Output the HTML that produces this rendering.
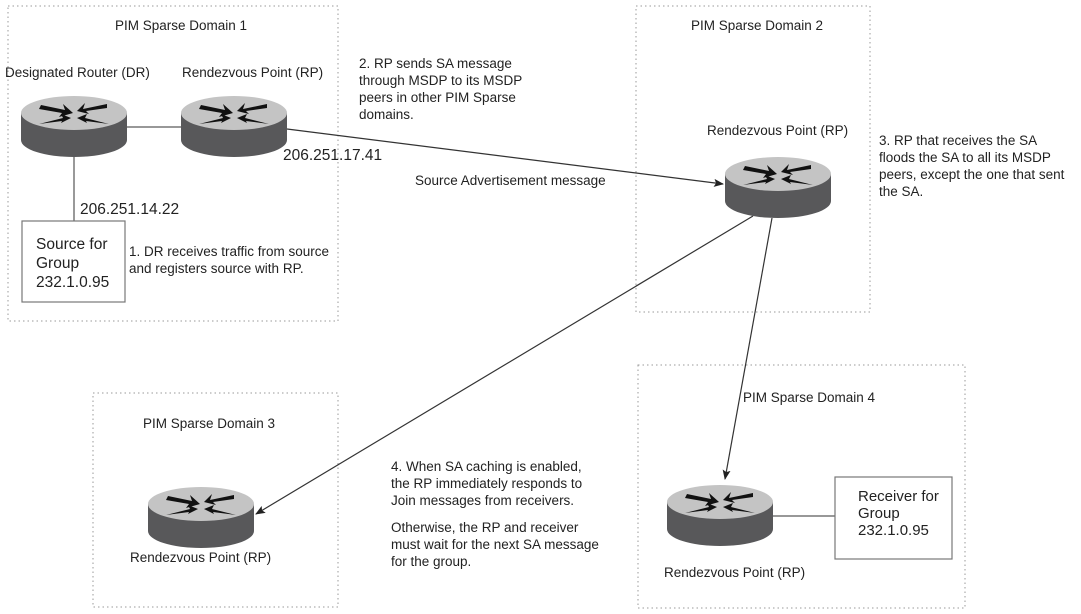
<!DOCTYPE html>
<html><head><meta charset="utf-8"><style>
html,body{margin:0;padding:0;background:#fff;}
svg{display:block;font-family:"Liberation Sans",Arial,sans-serif;fill:#222;}
</style></head><body>
<svg width="1081" height="614" viewBox="0 0 1081 614" xmlns="http://www.w3.org/2000/svg">
<defs>
<g id="rt">
  <path d="M0,17 L0,44 A53,17 0 0 0 106,44 L106,17 Z" fill="#58585a"/>
  <ellipse cx="53" cy="17" rx="53" ry="17" fill="#c4c4c4"/>
  <g fill="#111">
    <path d="M20,9 L44,14 L42,8 L52,17 L38,21 L41,17 L18,13 Z"/>
    <path d="M86,9 L62,14 L64,8 L56,16 L68,19 L65,16 L86,13 Z" transform="translate(0,-1)"/>
    <path d="M18,28 L42,22 L40,18 L50,22 L40,27 L41,25 Z"/>
    <path d="M88,28 L64,22 L66,18 L56,22 L66,27 L65,25 Z"/>
  </g>
</g>
<marker id="ah" markerWidth="10" markerHeight="8" refX="9" refY="4" orient="auto" markerUnits="userSpaceOnUse">
  <path d="M0,0 L10,4 L0,8 L2,4 Z" fill="#222"/>
</marker>
</defs>
<g fill="none" stroke="#999" stroke-width="1" stroke-dasharray="1.5,3">
  <rect x="8" y="6" width="330" height="315"/>
  <rect x="636" y="6" width="234" height="306"/>
  <rect x="93" y="393" width="245" height="214"/>
  <rect x="638" y="365" width="327" height="243"/>
</g>
<g stroke="#777" stroke-width="1.5" fill="none">
  <line x1="127" y1="127" x2="181" y2="127"/>
  <line x1="74" y1="157" x2="74" y2="221"/>
  <line x1="773" y1="516" x2="835" y2="516"/>
</g>
<g stroke="#333" stroke-width="1.2" fill="none" marker-end="url(#ah)">
  <line x1="287" y1="129" x2="723" y2="184"/>
  <line x1="753" y1="216" x2="256" y2="514"/>
  <line x1="772" y1="218" x2="725" y2="479"/>
</g>
<rect x="22" y="221" width="103" height="81" fill="#fff" stroke="#777" stroke-width="1.2"/>
<rect x="835" y="477" width="117" height="82" fill="#fff" stroke="#777" stroke-width="1.2"/>
<use href="#rt" x="21" y="96"/>
<use href="#rt" x="181" y="96"/>
<use href="#rt" x="725" y="157"/>
<use href="#rt" x="148" y="487"/>
<use href="#rt" x="667" y="485"/>
<g font-size="13.5">
  <text x="115" y="30">PIM Sparse Domain 1</text>
  <text x="5" y="77">Designated Router (DR)</text>
  <text x="182" y="77">Rendezvous Point (RP)</text>
  <text x="36" y="249" font-size="15.5">Source for</text>
  <text x="36" y="268" font-size="15.5">Group</text>
  <text x="36" y="287" font-size="15.5">232.1.0.95</text>
  <text x="129" y="256">1. DR receives traffic from source</text>
  <text x="129" y="273">and registers source with RP.</text>
  <text x="80" y="214" font-size="15.5">206.251.14.22</text>
  <text x="283" y="160" font-size="15.5">206.251.17.41</text>
  <text x="359" y="68">2. RP sends SA message</text>
  <text x="359" y="85">through MSDP to its MSDP</text>
  <text x="359" y="102">peers in other PIM Sparse</text>
  <text x="359" y="119">domains.</text>
  <text x="415" y="185">Source Advertisement message</text>
  <text x="691" y="30">PIM Sparse Domain 2</text>
  <text x="707" y="135">Rendezvous Point (RP)</text>
  <text x="879" y="145">3. RP that receives the SA</text>
  <text x="879" y="162">floods the SA to all its MSDP</text>
  <text x="879" y="179">peers, except the one that sent</text>
  <text x="879" y="196">the SA.</text>
  <text x="143" y="428">PIM Sparse Domain 3</text>
  <text x="130" y="562">Rendezvous Point (RP)</text>
  <text x="391" y="471">4. When SA caching is enabled,</text>
  <text x="391" y="488">the RP immediately responds to</text>
  <text x="391" y="505">Join messages from receivers.</text>
  <text x="391" y="532">Otherwise, the RP and receiver</text>
  <text x="391" y="549">must wait for the next SA message</text>
  <text x="391" y="566">for the group.</text>
  <text x="743" y="402">PIM Sparse Domain 4</text>
  <text x="664" y="577">Rendezvous Point (RP)</text>
  <text x="858" y="501" font-size="15">Receiver for</text>
  <text x="858" y="518" font-size="15">Group</text>
  <text x="858" y="535" font-size="15">232.1.0.95</text>
</g>
</svg>
</body></html>
